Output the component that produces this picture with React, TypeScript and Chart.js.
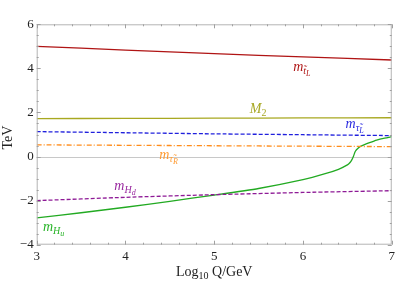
import React, { useEffect, useRef } from "react";
import { Chart, registerables } from "chart.js";
Chart.register(...registerables);

const xGrid = [3, 4, 5, 6, 7];
const tStopL = [5.0, 4.83, 4.67, 4.52, 4.38];
const gaugino2 = [1.72, 1.73, 1.74, 1.75, 1.76];
const stauL = [1.13, 1.08, 1.03, 0.99, 0.95];
const stauR = [0.53, 0.51, 0.49, 0.47, 0.45];
const higgsD = [-2.0, -1.85, -1.73, -1.63, -1.55];
const higgsUX = [3, 3.5, 4, 4.5, 5, 5.5, 6, 6.25, 6.4, 6.5, 6.53, 6.55, 6.57, 6.59, 6.62, 6.66, 6.75, 6.83, 6.92, 7];
const higgsUY = [-2.78, -2.55, -2.3, -2.03, -1.75, -1.45, -1.05, -0.78, -0.58, -0.38, -0.27, -0.15, 0.03, 0.24, 0.38, 0.48, 0.63, 0.75, 0.84, 0.9];

const xTicks = [3, 4, 5, 6, 7];
const yTicks = [-4, -2, 0, 2, 4, 6];

const labels = [
  { x: 5.89, y: 3.88, main: "m", sub: "t\u0303", subsub: "L", color: "#b01818" },
  { x: 5.4, y: 1.96, main: "M", sub: "2", subsub: "", color: "#a8a824" },
  { x: 6.48, y: 1.3, main: "m", sub: "\u03c4\u0303", subsub: "L", color: "#2a2ae0" },
  { x: 4.38, y: -0.12, main: "m", sub: "\u03c4\u0303", subsub: "R", color: "#ff9a30" },
  { x: 3.875, y: -1.51, main: "m", sub: "H", subsub: "d", color: "#9a2aa0" },
  { x: 3.07, y: -3.37, main: "m", sub: "H", subsub: "u", color: "#28b428" },
];

const pts = (xs: number[], ys: number[]) => xs.map((x, i) => ({ x, y: ys[i] }));

const frame = {
  id: "frame",
  beforeDatasetsDraw(chart: any) {
    const { ctx, chartArea: a, scales } = chart;
    const ys = scales.y;
    ctx.save();
    ctx.strokeStyle = "#c8c8c8";
    ctx.lineWidth = 1;
    const y0 = Math.round(ys.getPixelForValue(0)) + 0.5;
    ctx.beginPath();
    ctx.moveTo(a.left, y0);
    ctx.lineTo(a.right, y0);
    ctx.stroke();
    ctx.restore();
  },
  afterDraw(chart: any) {
    const { ctx, chartArea: a, scales } = chart;
    const xs = scales.x;
    const ys = scales.y;
    ctx.save();
    ctx.strokeStyle = "#b4b4b4";
    ctx.lineWidth = 1;
    ctx.strokeRect(a.left + 0.5, a.top + 0.5, a.right - a.left - 1, a.bottom - a.top - 1);
    ctx.strokeStyle = "#a0a0a0";
    ctx.beginPath();
    for (let i = 0; i <= 20; i++) {
      const v = 3 + i * 0.2;
      const px = Math.round(xs.getPixelForValue(v)) + 0.5;
      const len = i % 5 === 0 ? 4 : 2;
      ctx.moveTo(px, a.bottom);
      ctx.lineTo(px, a.bottom - len);
      ctx.moveTo(px, a.top);
      ctx.lineTo(px, a.top + len);
    }
    for (let i = 0; i <= 20; i++) {
      const v = -4 + i * 0.5;
      const py = Math.round(ys.getPixelForValue(v)) + 0.5;
      const len = i % 4 === 0 ? 4 : 2;
      ctx.moveTo(a.left, py);
      ctx.lineTo(a.left + len, py);
      ctx.moveTo(a.right, py);
      ctx.lineTo(a.right - len, py);
    }
    ctx.stroke();

    // curve labels
    for (const l of labels) {
      const px = xs.getPixelForValue(l.x);
      const py = ys.getPixelForValue(l.y);
      ctx.fillStyle = l.color;
      ctx.textBaseline = "alphabetic";
      ctx.textAlign = "left";
      ctx.font = "italic 14px 'Liberation Serif'";
      ctx.fillText(l.main, px, py);
      let w = ctx.measureText(l.main).width;
      const subItalic = l.sub === "2" ? "" : "italic ";
      ctx.font = subItalic + "10px 'Liberation Serif'";
      ctx.fillText(l.sub, px + w, py + 3);
      const w2 = ctx.measureText(l.sub).width;
      if (l.subsub) {
        ctx.font = "italic 8px 'Liberation Serif'";
        ctx.fillText(l.subsub, px + w + w2, py + 5);
      }
    }

    // axis titles
    ctx.fillStyle = "#222";
    ctx.font = "14px 'Liberation Serif'";
    const t1 = "Log";
    const t2 = "10";
    const t3 = " Q/GeV";
    ctx.font = "14px 'Liberation Serif'";
    const w1 = ctx.measureText(t1).width;
    const w3 = ctx.measureText(t3).width;
    ctx.font = "10px 'Liberation Serif'";
    const w2 = ctx.measureText(t2).width;
    const total = w1 + w2 + w3;
    let sx = (a.left + a.right) / 2 - total / 2;
    const by = 276;
    ctx.textAlign = "left";
    ctx.font = "14px 'Liberation Serif'";
    ctx.fillText(t1, sx, by);
    ctx.font = "10px 'Liberation Serif'";
    ctx.fillText(t2, sx + w1, by + 3);
    ctx.font = "14px 'Liberation Serif'";
    ctx.fillText(t3, sx + w1 + w2, by);

    ctx.translate(12, (a.top + a.bottom) / 2 + 3);
    ctx.rotate(-Math.PI / 2);
    ctx.textAlign = "center";
    ctx.fillText("TeV", 0, 0);
    ctx.restore();
  },
};

export default function App() {
  const ref = useRef<HTMLCanvasElement>(null);
  useEffect(() => {
    document.body.style.margin = "0";
    const line = (data: any, color: string, dash: number[] = [], width = 1.3) => ({
      data,
      borderColor: color,
      borderWidth: width,
      borderDash: dash,
      pointRadius: 0,
      showLine: true,
      fill: false,
      tension: 0.2,
    });
    const chart = new Chart(ref.current!, {
      type: "scatter",
      data: {
        datasets: [
          line(pts(xGrid, tStopL), "#b01414"),
          line(pts(xGrid, gaugino2), "#a8a820"),
          line(pts(xGrid, stauL), "#2020dd", [4, 2]),
          line(pts(xGrid, stauR), "#ff8c1a", [5, 2, 1, 2]),
          line(pts(xGrid, higgsD), "#8e1a96", [4, 2]),
          line(pts(higgsUX, higgsUY), "#22aa22"),
        ],
      },
      options: {
        animation: false,
        responsive: false,
        maintainAspectRatio: false,
        layout: { padding: { left: 0, right: 4.7, top: 24.3, bottom: 0 } },
        plugins: { legend: { display: false }, tooltip: { enabled: false } },
        scales: {
          x: {
            type: "linear",
            min: 3,
            max: 7,
            afterFit: (s: any) => { s.height = 54.3; },
            afterBuildTicks: (s: any) => { s.ticks = xTicks.map((v) => ({ value: v })); },
            grid: { display: false, drawTicks: false },
            border: { display: false },
            ticks: {
              padding: 4,
              color: "#222",
              font: { family: "'Liberation Serif'", size: 13 },
              callback: (v: any) => String(v),
            },
          },
          y: {
            type: "linear",
            min: -4,
            max: 6,
            afterFit: (s: any) => { s.width = 36.7; },
            afterBuildTicks: (s: any) => { s.ticks = yTicks.map((v) => ({ value: v })); },
            grid: { display: false, drawTicks: false },
            border: { display: false },
            ticks: {
              padding: 3,
              color: "#222",
              font: { family: "'Liberation Serif'", size: 13 },
              callback: (v: any) => String(v).replace("-", "\u2212"),
            },
          },
        },
      },
      plugins: [frame],
    });
    return () => chart.destroy();
  }, []);
  return (
    <div style={{ position: "absolute", left: 0, top: 0, width: 399, height: 299 }}>
      <canvas ref={ref} width={399} height={299} style={{ width: 399, height: 299 }} />
    </div>
  );
}
